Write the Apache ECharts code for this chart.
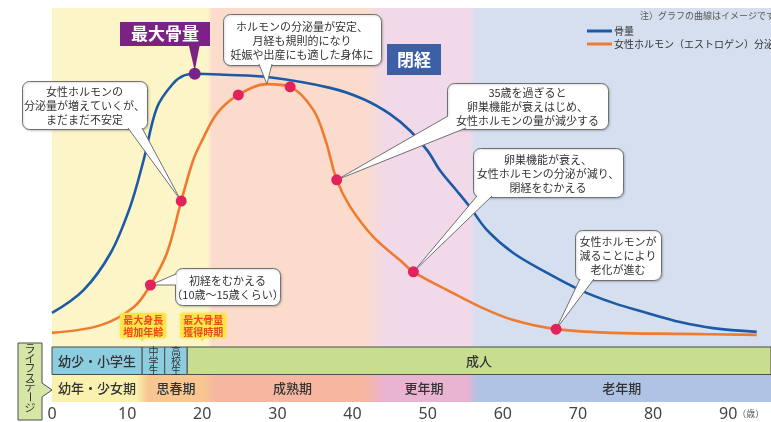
<!DOCTYPE html>
<html>
<head>
<meta charset="utf-8">
<script src="https://cdn.jsdelivr.net/npm/echarts@6/dist/echarts.min.js"></script>
<style>
html,body{margin:0;padding:0;background:#fff;}
#chart{width:771px;height:422px;}
</style>
</head>
<body>
<div id="chart"></div>
<script>
// 年齢（歳）ごとの骨量（相対値）
const boneAges = [0, 4.2, 7.8, 10.4, 12.2, 14, 16.2, 17.6, 19, 23, 28.7, 37, 41.4, 45, 47.7, 50, 51.7, 53.9, 55.6, 57.9, 61.4, 65.9, 70.3, 74.7, 79.2, 83.6, 88, 93.8];
const boneMass = [9.5, 16.3, 27.3, 41, 54.9, 70.6, 77.8, 80, 80.5, 80.2, 79.5, 76.3, 73, 68.5, 63.5, 57.6, 51.6, 45.7, 41, 34.1, 27.3, 21.4, 16.3, 12.5, 9.5, 6.8, 5, 3.9];

// 年齢（歳）ごとの女性ホルモン（エストロゲン）分泌量（相対値）
const hormoneAges = [0, 6.5, 10.9, 13.1, 15.3, 17.2, 18.8, 20, 22, 24.8, 28.6, 31.7, 34.8, 36.4, 37.9, 39.7, 42.8, 46.3, 48.1, 52.6, 57, 61.4, 67.1, 74.7, 83.6, 93.8];
const hormone = [3.6, 5.9, 11.3, 17.8, 27.3, 42.7, 54.9, 60.8, 68.8, 74.2, 77.4, 76.6, 69.7, 60.8, 49, 41, 32, 25.2, 21.7, 16.3, 11.3, 7.4, 4.7, 3.6, 3.3, 3.0];

// 曲線上の節目
const hormoneMarkAges = [13.1, 17.2, 24.8, 31.7, 37.9, 48.1, 67.1];
const peakBoneAge = 19;

// 横軸
const AGE_MAX = 95.7;
const ageTicks = [0, 10, 20, 30, 40, 50, 60, 70, 80, 90];

// 背景の時期区分
const periodEdges = [0, 21, 43, 56, AGE_MAX];

// ライフステージ
const schoolStages = ['幼少・小学生', '中学生', '高校生', '成人'];
const schoolEdges = [0, 12, 15, 18, AGE_MAX];
const lifeStages = ['幼年・少女期', '思春期', '成熟期', '更年期', '老年期'];
const lifeEdges = [0, 12, 21, 43, 56, AGE_MAX];

// 横軸上の目印
const growthMarks = [[12, '最大身長\n増加年齢'], [20, '最大骨量\n獲得時期']];

const FONT = '"Noto Sans CJK JP", "Noto Sans", sans-serif';
const BLUE = '#1d5aa6';
const ORANGE = '#ee7b2f';
const MARK = '#e2225c';
const PURPLE = '#7b2383';

const periodColors = ['#fbf5c8', '#fbdccc', '#f1d9e9', '#d5dfef'];
const periodBlends = [0.6, 2.5, 0.8];
const schoolColors = ['#8ccde0', '#8ccde0', '#8ccde0', '#c7de90'];
const lifeColors = ['#faf1ae', '#f8c690', '#f6b6a0', '#e9b3d2', '#afc4e4'];
const lifeBlends = [1.5, 2, 3, 1.5];

function gradientStops(edges, colors, blends) {
  const stops = [];
  for (let i = 0; i < colors.length; i++) {
    const s = edges[i] + (i > 0 ? blends[i - 1] / 2 : 0);
    const e = edges[i + 1] - (i < colors.length - 1 ? blends[i] / 2 : 0);
    stops.push({offset: s / AGE_MAX, color: colors[i]}, {offset: e / AGE_MAX, color: colors[i]});
  }
  return stops;
}

const zip = (xs, ys) => xs.map((x, i) => [x, ys[i]]);
const hormoneAt = age => hormone[hormoneAges.indexOf(age)];
const boneAt = age => boneMass[boneAges.indexOf(age)];

const chart = echarts.init(document.getElementById('chart'), null, {renderer: 'canvas'});

const option = {
  animation: false,
  backgroundColor: '#ffffff',
  textStyle: {fontFamily: FONT},
  grid: [
    {left: 52, right: 0, top: 8, height: 337},
    {left: 52, right: 0, top: 347, height: 56}
  ],
  xAxis: [
    {gridIndex: 0, type: 'value', min: 0, max: AGE_MAX, show: false},
    {
      gridIndex: 1, type: 'value', min: 0, max: AGE_MAX, interval: 10,
      axisLine: {show: false}, axisTick: {show: false}, splitLine: {show: false},
      axisLabel: {
        showMaxLabel: false, margin: 4, fontSize: 16, color: '#444', fontFamily: '"Noto Sans", sans-serif',
        formatter: v => (ageTicks.indexOf(v) >= 0 ? String(v) : '')
      }
    }
  ],
  yAxis: [
    {gridIndex: 0, type: 'value', min: 0, max: 100, show: false},
    {gridIndex: 1, type: 'value', min: 0, max: 2, show: false}
  ],
  legend: {
    orient: 'vertical', left: 587, top: 26, itemWidth: 25, itemHeight: 3, itemGap: 3,
    icon: 'rect', padding: 0,
    textStyle: {fontSize: 10, color: '#333', fontFamily: FONT, padding: [0, 0, 0, -3]},
    data: ['骨量', '女性ホルモン（エストロゲン）分泌量']
  },
  series: [
    {
      // 背景の時期区分
      type: 'custom', xAxisIndex: 0, yAxisIndex: 0, z: 0, silent: true,
      data: [[0, AGE_MAX]],
      renderItem: (params, api) => {
        const p0 = api.coord([api.value(0), 100]);
        const p1 = api.coord([api.value(1), 0]);
        return {
          type: 'rect',
          shape: {x: p0[0], y: p0[1], width: p1[0] - p0[0], height: p1[1] - p0[1] + 2},
          style: {fill: new echarts.graphic.LinearGradient(0, 0, 1, 0, gradientStops(periodEdges, periodColors, periodBlends))}
        };
      }
    },
    {
      name: '骨量', type: 'line', xAxisIndex: 0, yAxisIndex: 0, z: 3,
      smooth: 0.35, showSymbol: false, symbol: 'none',
      lineStyle: {color: BLUE, width: 2.6}, itemStyle: {color: BLUE},
      data: zip(boneAges, boneMass)
    },
    {
      name: '女性ホルモン（エストロゲン）分泌量', type: 'line', xAxisIndex: 0, yAxisIndex: 0, z: 3,
      smooth: 0.35, showSymbol: false, symbol: 'none',
      lineStyle: {color: ORANGE, width: 2.6}, itemStyle: {color: ORANGE},
      data: zip(hormoneAges, hormone)
    },
    {
      type: 'scatter', xAxisIndex: 0, yAxisIndex: 0, z: 100, symbolSize: 11,
      itemStyle: {color: MARK, opacity: 1},
      data: hormoneMarkAges.map(a => [a, hormoneAt(a)])
    },
    {
      type: 'scatter', xAxisIndex: 0, yAxisIndex: 0, z: 100, symbolSize: 12,
      itemStyle: {color: PURPLE, opacity: 1},
      data: [[peakBoneAge, boneAt(peakBoneAge)]]
    },
    {
      // ライフステージ下段（時期）
      type: 'custom', xAxisIndex: 1, yAxisIndex: 1, z: 2, silent: true,
      data: [[0, AGE_MAX]],
      renderItem: (params, api) => {
        const p0 = api.coord([api.value(0), 1]);
        const p1 = api.coord([api.value(1), 0]);
        return {
          type: 'rect',
          shape: {x: p0[0], y: p0[1], width: p1[0] - p0[0], height: p1[1] - p0[1]},
          style: {fill: new echarts.graphic.LinearGradient(0, 0, 1, 0, gradientStops(lifeEdges, lifeColors, lifeBlends))}
        };
      }
    },
    {
      type: 'custom', xAxisIndex: 1, yAxisIndex: 1, z: 3, silent: true,
      data: lifeStages.map((s, i) => [lifeEdges[i], lifeEdges[i + 1]]),
      renderItem: (params, api) => {
        const p0 = api.coord([api.value(0), 1]);
        const p1 = api.coord([api.value(1), 0]);
        return {
          type: 'text',
          style: {
            text: lifeStages[params.dataIndex], x: (p0[0] + p1[0]) / 2, y: (p0[1] + p1[1]) / 2,
            align: 'center', verticalAlign: 'middle', font: '500 13px ' + FONT, fill: '#333'
          }
        };
      }
    },
    {
      // ライフステージ上段（学校）
      type: 'custom', xAxisIndex: 1, yAxisIndex: 1, z: 4, silent: true,
      data: schoolStages.map((s, i) => [schoolEdges[i], schoolEdges[i + 1]]),
      renderItem: (params, api) => {
        const i = params.dataIndex;
        const p0 = api.coord([api.value(0), 2]);
        const p1 = api.coord([api.value(1), 1]);
        const cx = (p0[0] + p1[0]) / 2;
        const cy = (p0[1] + p1[1]) / 2;
        const label = schoolStages[i];
        // 幅の狭い区分は縦書き
        const vertical = (p1[0] - p0[0]) < label.length * 12;
        const texts = vertical
          ? label.split('').map((c, k) => ({
              type: 'text',
              style: {text: c, x: cx, y: cy + (k - (label.length - 1) / 2) * 9.3, align: 'center', verticalAlign: 'middle', font: '10px ' + FONT, fill: '#333'}
            }))
          : [{type: 'text', style: {text: label, x: cx, y: cy + 0.5, align: 'center', verticalAlign: 'middle', font: '500 13px ' + FONT, fill: '#333'}}];
        return {
          type: 'group',
          children: [{
            type: 'rect',
            shape: {x: p0[0], y: p0[1], width: p1[0] - p0[0], height: p1[1] - p0[1]},
            style: {fill: schoolColors[i], stroke: '#4d4d4d', lineWidth: 1}
          }].concat(texts)
        };
      }
    }
  ]
};

chart.setOption(option);

// 吹き出し
const notes = [
  {lines: ['女性ホルモンの', '分泌量が増えていくが、', 'まだまだ不安定'], box: [22, 81, 125, 48], base: [[128, 128], [142, 128]], age: 17.2},
  {lines: ['ホルモンの分泌量が安定、', '月経も規則的になり', '妊娠や出産にも適した身体に'], box: [223, 14, 158, 51], base: [[259, 64], [272, 64]], age: 28.6},
  {lines: ['35歳を過ぎると', '卵巣機能が衰えはじめ、', '女性ホルモンの量が減少する'], box: [447, 83, 161, 46], base: [[448, 116], [466, 128]], age: 37.9},
  {lines: ['卵巣機能が衰え、', '女性ホルモンの分泌が減り、', '閉経をむかえる'], box: [473, 148, 150, 49], base: [[477, 196], [492, 196]], age: 48.1},
  {lines: ['女性ホルモンが', '減ることにより', '老化が進む'], box: [575, 230, 86, 50], base: [[580, 279], [594, 279]], age: 67.1},
  {lines: ['初経をむかえる', '（10歳〜15歳くらい）'], box: [175, 268, 105, 37], base: [[176, 274], [176, 285]], age: 13.1}
];

const graphics = [];
notes.forEach(n => {
  const [bx, by, bw, bh] = n.box;
  const tip = chart.convertToPixel({gridIndex: 0}, [n.age, hormoneAt(n.age)]);
  const pts = [n.base[0], tip, n.base[1]];
  graphics.push(
    {type: 'rect', z: 50, shape: {x: bx + 0.5, y: by + 0.5, width: bw, height: bh, r: 7},
      style: {fill: '#ffffff', stroke: '#707070', lineWidth: 1, shadowBlur: 2, shadowColor: 'rgba(0,0,0,0.18)', shadowOffsetX: 1, shadowOffsetY: 1}},
    {type: 'polygon', z: 51, shape: {points: pts}, style: {fill: '#ffffff'}},
    {type: 'polyline', z: 52, shape: {points: pts}, style: {stroke: '#707070', lineWidth: 1, fill: null}},
    {type: 'text', z: 53, style: {text: n.lines.join('\n'), x: bx + bw / 2, y: by + bh / 2 + 1,
      align: 'center', verticalAlign: 'middle', font: '11px ' + FONT, lineHeight: 14, fill: '#333'}}
  );
});

// 最大骨量・閉経の見出し
const peak = chart.convertToPixel({gridIndex: 0}, [peakBoneAge, boneAt(peakBoneAge)]);
graphics.push(
  {type: 'rect', z: 60, shape: {x: 120, y: 22, width: 90, height: 24}, style: {fill: PURPLE}},
  {type: 'polygon', z: 60, shape: {points: [[peak[0] - 6, 45], [peak[0] + 5, 45], [peak[0], peak[1] - 3]]}, style: {fill: PURPLE}},
  {type: 'text', z: 61, style: {text: '最大骨量', x: 165, y: 34, align: 'center', verticalAlign: 'middle', font: 'bold 17px ' + FONT, fill: '#fff'}},
  {type: 'rect', z: 60, shape: {x: 387, y: 44, width: 54, height: 31}, style: {fill: '#3c5fa6'}},
  {type: 'text', z: 61, style: {text: '閉経', x: 414, y: 60, align: 'center', verticalAlign: 'middle', font: 'bold 17px ' + FONT, fill: '#fff'}}
);

// 横軸上の目印
growthMarks.forEach(([age, text]) => {
  const x = chart.convertToPixel({gridIndex: 1}, [age, 2])[0];
  graphics.push(
    {type: 'rect', z: 40, shape: {x: x - 22, y: 313, width: 46, height: 25, r: 2}, style: {fill: '#fbe64a', shadowBlur: 3, shadowColor: 'rgba(250,225,60,0.9)'}},
    {type: 'polygon', z: 40, shape: {points: [[x - 3, 337], [x + 3, 337], [x, 342]]}, style: {fill: '#fbe64a'}},
    {type: 'text', z: 41, style: {text: text, x: x + 1, y: 326, align: 'center', verticalAlign: 'middle', font: 'bold 10px ' + FONT, lineHeight: 12, fill: '#ee4a1e'}}
  );
});

// ライフステージ見出し
graphics.push({type: 'polygon', z: 40, shape: {points: [[18, 343], [42, 343], [42, 383], [52, 390], [42, 397], [42, 420], [18, 420]]},
  style: {fill: '#d6e6a6', stroke: '#4d4d4d', lineWidth: 1}});
const stageChars = ['ラ', 'イ', 'フ', 'ス', 'テ', 'ー', 'ジ'];
const charY = [349, 358.5, 368, 377.5, 387, 397, 408];
stageChars.forEach((c, i) => {
  graphics.push({type: 'text', z: 41, x: 30, y: charY[i], rotation: c === 'ー' ? -Math.PI / 2 : 0,
    style: {text: c, x: 0, y: 0, align: 'center', verticalAlign: 'middle', font: '11px ' + FONT, fill: '#333'}});
});

// 単位と注記
const p90 = chart.convertToPixel({gridIndex: 1}, [90, 0]);
graphics.push(
  {type: 'text', z: 41, style: {text: '（歳）', x: p90[0] + 9, y: 414, align: 'left', verticalAlign: 'middle', font: '9px ' + FONT, fill: '#555'}},
  {type: 'text', z: 41, style: {text: '注）グラフの曲線はイメージです', x: 640, y: 16, align: 'left', verticalAlign: 'middle', font: '9px ' + FONT, fill: '#555'}}
);

chart.setOption({graphic: graphics});
</script>
</body>
</html>
